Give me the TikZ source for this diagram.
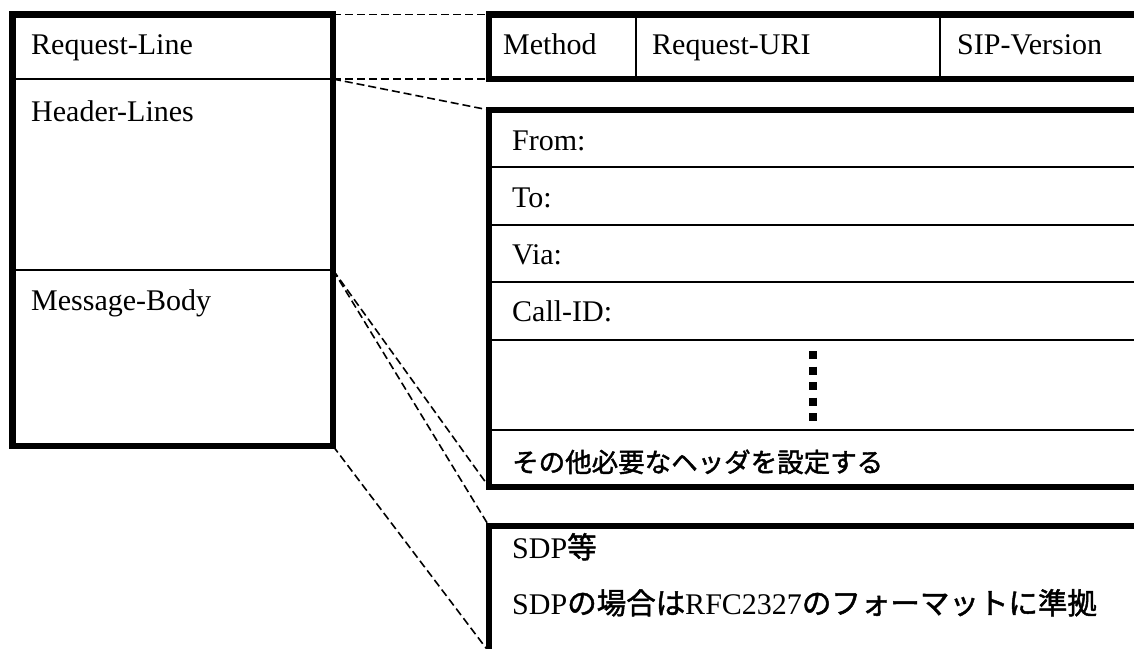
\documentclass[tikz,border=0pt]{standalone}
\usepackage{fontspec}
\setmainfont{Liberation Serif}
\newfontfamily\jp[FakeBold=1.6]{Noto Sans CJK JP}
\newcommand{\jpt}[1]{{\jp\fontsize{29.5}{32}\selectfont #1}}
\begin{document}
\begin{tikzpicture}[x=1pt,y=-1pt,
  outer/.style={draw, line width=6.5pt, inner sep=0pt, outer sep=0pt, anchor=north west},
  divider/.style={line width=2.8pt},
  link/.style={line width=1.6pt, dash pattern=on 8pt off 4pt},
  lbl/.style={anchor=base west, inner sep=0pt, font=\fontsize{30}{34}\selectfont},
  jlbl/.style={anchor=base west, inner sep=0pt, font=\fontsize{26.5}{32}\selectfont\jp},
]
\useasboundingbox (0,0) rectangle (1134,648);
\clip (0,0) rectangle (1134,648);

% boxes
\node[outer, minimum width=320.5pt, minimum height=431.5pt] (msg) at (12.5,14.5) {};
\node[outer, minimum width=661pt, minimum height=64.5pt] (rl) at (489,14.5) {};
\node[outer, minimum width=661pt, minimum height=377pt] (hdr) at (489,110) {};
\node[outer, minimum width=661pt, minimum height=126pt] (sdp) at (489,526) {};

% dividers of the message box
\coordinate (d1) at (333,79);
\coordinate (d2) at (333,270);
\draw[divider] (msg.west |- d1) -- (d1);
\draw[divider] (msg.west |- d2) -- (d2);

% dividers of the request line
\draw[divider] (636,14.5) -- (636,79);
\draw[divider] (940,14.5) -- (940,79);

% dividers of the header box
\foreach \yy in {167,225,282,340,430}
  \draw[divider] (489,\yy) -- (1150,\yy);

% vertical dots
\draw[line width=8pt, dash pattern=on 8pt off 7.5pt] (813,351) -- (813,422);

% dashed links
\draw[link] (msg.north east) -- (rl.north west);
\draw[link] (d1) -- (rl.south west);
\draw[link] (d1) -- (hdr.north west);
\draw[link] (d2) -- (hdr.south west);
\draw[link] (d2) -- (sdp.north west);
\draw[link] (msg.south east) -- (sdp.south west);

% labels
\node[lbl] (tRL) at (31,54) {Request-Line};
\node[lbl] (tHL) at (31,121) {Header-Lines};
\node[lbl] (tMB) at (31,310) {Message-Body};
\node[lbl] (tM) at (503,54) {Method};
\node[lbl] (tURI) at (652,54) {Request-URI};
\node[lbl] (tV) at (957,54) {SIP-Version};
\node[lbl] (tF) at (512,150) {From:};
\node[lbl] (tT) at (512,207) {To:};
\node[lbl] (tVia) at (512,264) {Via:};
\node[lbl] (tC) at (512,321) {Call-ID:};
\node[jlbl] (tO) at (512,472) {その他必要なヘッダを設定する};
\node[lbl] (tS1) at (512,558) {SDP\jpt{等}};
\node[lbl] (tS2) at (512,614) {SDP\jpt{の場合は}RFC2327\jpt{のフォーマットに準拠}};
\end{tikzpicture}
\end{document}
